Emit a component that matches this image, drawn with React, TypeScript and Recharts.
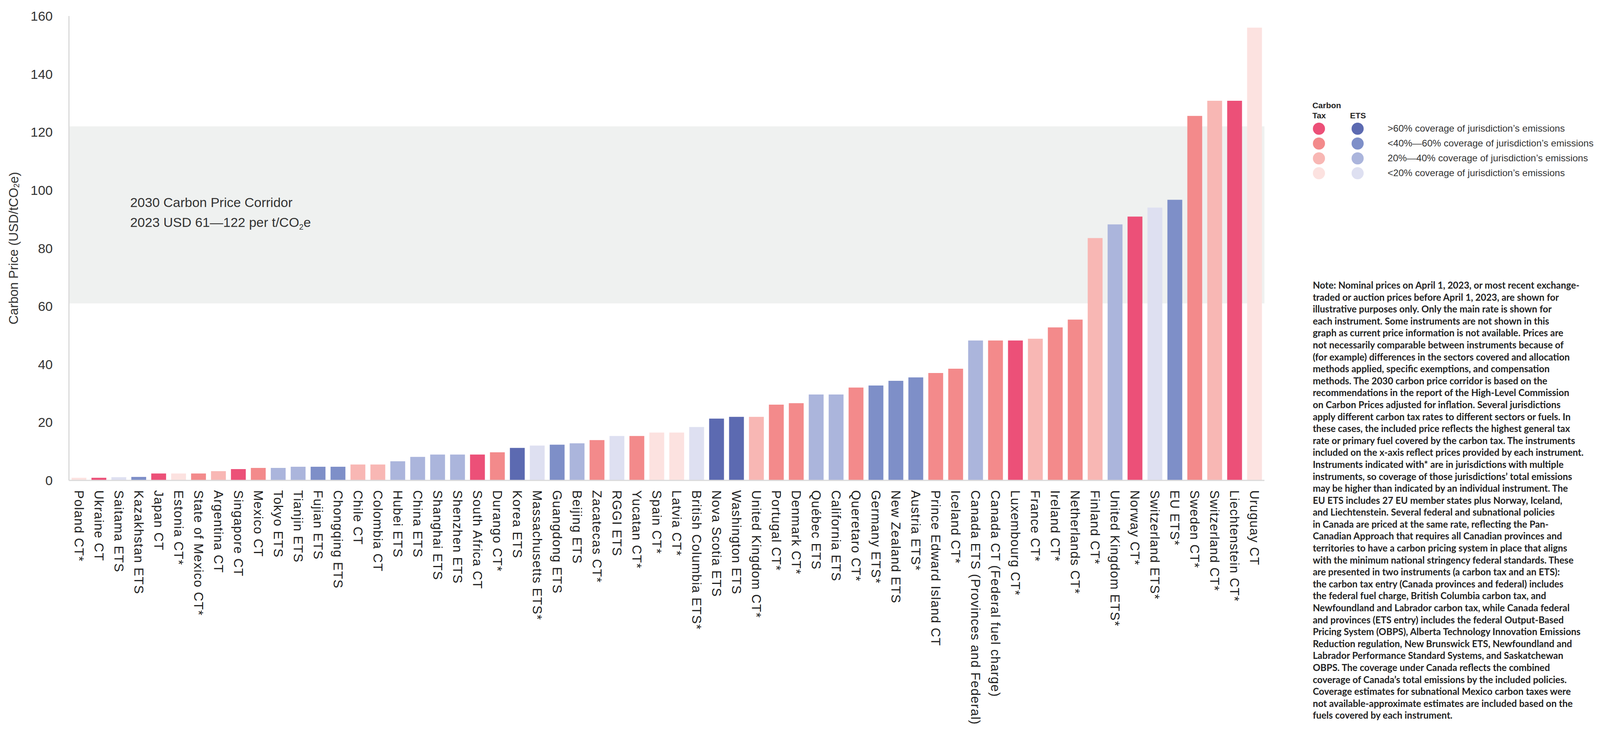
import React from "react";
import { BarChart, Bar, Cell, XAxis, YAxis, ReferenceArea } from "recharts";

const FONT = "'Liberation Sans', Arial, sans-serif";

// the page may be narrower than the 4339px design; squeeze x positions to fit
const DESIGN_W = 4339;
const VIEW_W = typeof window !== "undefined" ? Math.min(window.innerWidth || DESIGN_W, DESIGN_W) : DESIGN_W;
const SX = VIEW_W / DESIGN_W;
const px = (v: number) => v * SX;

const instruments = [
  "Poland CT*", "Ukraine CT", "Saitama ETS", "Kazakhstan ETS", "Japan CT", "Estonia CT*",
  "State of Mexico CT*", "Argentina CT", "Singapore CT", "Mexico CT", "Tokyo ETS", "Tianjin ETS",
  "Fujian ETS", "Chongqing ETS", "Chile CT", "Colombia CT", "Hubei ETS", "China ETS",
  "Shanghai ETS", "Shenzhen ETS", "South Africa CT", "Durango CT*", "Korea ETS",
  "Massachusetts ETS*", "Guangdong ETS", "Beijing ETS", "Zacatecas CT*", "RGGI ETS",
  "Yucatan CT*", "Spain CT*", "Latvia CT*", "British Columbia ETS*", "Nova Scotia ETS",
  "Washington ETS", "United Kingdom CT*", "Portugal CT*", "Denmark CT*", "Québec ETS",
  "California ETS", "Queretaro CT*", "Germany ETS*", "New Zealand ETS", "Austria ETS*",
  "Prince Edward Island CT", "Iceland CT*", "Canada ETS (Provinces and Federal)",
  "Canada CT (Federal fuel charge)", "Luxembourg CT*", "France CT*", "Ireland CT*",
  "Netherlands CT*", "Finland CT*", "United Kingdom ETS*", "Norway CT*", "Switzerland ETS*",
  "EU ETS*", "Sweden CT*", "Switzerland CT*", "Liechtenstein CT*", "Uruguay CT",
];

// USD/tCO2e
const prices = [
  0.9, 0.9, 1.1, 1.2, 2.4, 2.4, 2.4, 3.2, 3.9, 4.3, 4.3, 4.7,
  4.7, 4.7, 5.5, 5.5, 6.6, 8.1, 8.9, 8.9, 8.9, 9.7, 11.2,
  12, 12.3, 12.8, 13.9, 15.3, 15.3, 16.5, 16.5, 18.4, 21.3,
  21.9, 21.9, 26.1, 26.6, 29.6, 29.6, 32, 32.7, 34.3, 35.5,
  37, 38.5, 48.2, 48.2, 48.2, 48.8, 52.7, 55.4, 83.5, 88.2,
  90.9, 94, 96.7, 125.6, 130.8, 130.8, 156,
];

// 1: >60%, 2: 40-60%, 3: 20-40%, 4: <20% coverage
const coverageTier = [
  4, 1, 4, 2, 1, 4, 2, 3, 1, 2, 3, 3,
  2, 2, 3, 3, 3, 3, 3, 3, 1, 2, 1,
  4, 2, 3, 2, 4, 2, 4, 4, 4, 1,
  1, 3, 2, 2, 3, 3, 2, 2, 2, 2,
  2, 2, 3, 2, 1, 3, 2, 2, 3, 3,
  1, 4, 2, 2, 3, 1, 4,
];

const yTicks = [0, 20, 40, 60, 80, 100, 120, 140, 160];
const corridorLow = 61;
const corridorHigh = 122;

const taxColors = ["#EC5078", "#F38A8B", "#F8B7B4", "#FCE2E0"];
const etsColors = ["#5C6AB1", "#7E8FC8", "#ABB5DC", "#DEE0F1"];

const legendLabels = [
  ">60% coverage of jurisdiction’s emissions",
  "<40%—60% coverage of jurisdiction’s emissions",
  "20%—40% coverage of jurisdiction’s emissions",
  "<20% coverage of jurisdiction’s emissions",
];

const noteLines = [
  "Note: Nominal prices on April 1, 2023, or most recent exchange-",
  "traded or auction prices before April 1, 2023, are shown for",
  "illustrative purposes only. Only the main rate is shown for",
  "each instrument. Some instruments are not shown in this",
  "graph as current price information is not available. Prices are",
  "not necessarily comparable between instruments because of",
  "(for example) differences in the sectors covered and allocation",
  "methods applied, specific exemptions, and compensation",
  "methods. The 2030 carbon price corridor is based on the",
  "recommendations in the report of the High-Level Commission",
  "on Carbon Prices adjusted for inflation. Several jurisdictions",
  "apply different carbon tax rates to different sectors or fuels. In",
  "these cases, the included price reflects the highest general tax",
  "rate or primary fuel covered by the carbon tax. The instruments",
  "included on the x-axis reflect prices provided by each instrument.",
  "Instruments indicated with* are in jurisdictions with multiple",
  "instruments, so coverage of those jurisdictions’ total emissions",
  "may be higher than indicated by an individual instrument. The",
  "EU ETS includes 27 EU member states plus Norway, Iceland,",
  "and Liechtenstein. Several federal and subnational policies",
  "in Canada are priced at the same rate, reflecting the Pan-",
  "Canadian Approach that requires all Canadian provinces and",
  "territories to have a carbon pricing system in place that aligns",
  "with the minimum national stringency federal standards. These",
  "are presented in two instruments (a carbon tax and an ETS):",
  "the carbon tax entry (Canada provinces and federal) includes",
  "the federal fuel charge, British Columbia carbon tax, and",
  "Newfoundland and Labrador carbon tax, while Canada federal",
  "and provinces (ETS entry) includes the federal Output-Based",
  "Pricing System (OBPS), Alberta Technology Innovation Emissions",
  "Reduction regulation, New Brunswick ETS, Newfoundland and",
  "Labrador Performance Standard Systems, and Saskatchewan",
  "OBPS. The coverage under Canada reflects the combined",
  "coverage of Canada’s total emissions by the included policies.",
  "Coverage estimates for subnational Mexico carbon taxes were",
  "not available-approximate estimates are included based on the",
  "fuels covered by each instrument.",
];

const data = instruments.map((name, i) => ({
  name,
  price: prices[i],
  tier: coverageTier[i],
  isEts: name.includes("ETS"),
}));

const XTick = (props: any) => {
  const { x, y, payload } = props;
  return (
    <text
      x={x}
      y={y}
      transform={`rotate(90 ${x} ${y})`}
      textAnchor="start"
      dominantBaseline="central"
      fontSize={33}
      letterSpacing={1.5}
      fill="#1f1f1f"
      fontFamily={FONT}
    >
      {payload.value}
    </text>
  );
};

const YTitle = (props: any) => {
  const vb = props.viewBox || { y: 41, height: 1189 };
  const cy = vb.y + vb.height / 2;
  const x = px(37);
  return (
    <text
      x={x}
      y={cy}
      transform={`rotate(-90 ${x} ${cy})`}
      textAnchor="middle"
      dominantBaseline="central"
      fontSize={33}
      fill="#333"
      fontFamily={FONT}
    >
      Carbon Price (USD/tCO<tspan fontSize={20} dy={7}>2</tspan>
      <tspan dy={-7}>e)</tspan>
    </text>
  );
};

const CorridorLabel = (props: any) => {
  const vb = props.viewBox || { x: px(187), y: 323 };
  const x = vb.x + px(166);
  return (
    <g fontFamily={FONT} fontSize={34} fill="#333">
      <text x={x} y={vb.y + 207}>2030 Carbon Price Corridor</text>
      <text x={x} y={vb.y + 258}>
        2023 USD {corridorLow}—{corridorHigh} per t/CO<tspan fontSize={20} dy={7}>2</tspan>
        <tspan dy={-7}>e</tspan>
      </text>
    </g>
  );
};

export default function App() {
  return (
    <div
      style={{
        position: "absolute",
        left: 0,
        top: 0,
        width: px(4339),
        height: 1869,
        background: "#fff",
        fontFamily: FONT,
        overflow: "hidden",
      }}
    >
      <BarChart
        width={px(3440)}
        height={1869}
        data={data}
        margin={{ top: 41, right: px(11), left: 0, bottom: 0 }}
        barCategoryGap="13%"
      >
        <ReferenceArea
          y1={corridorLow}
          y2={corridorHigh}
          fill="#EFF1F0"
          fillOpacity={1}
          stroke="none"
          label={<CorridorLabel />}
        />
        <XAxis
          dataKey="name"
          interval={0}
          height={639}
          tickLine={false}
          tickSize={0}
          tickMargin={25}
          axisLine={{ stroke: "#dadada", strokeWidth: 3 }}
          tick={<XTick />}
        />
        <YAxis
          domain={[0, 160]}
          ticks={yTicks}
          width={px(187)}
          tickLine={false}
          tickSize={0}
          tickMargin={px(44)}
          axisLine={{ stroke: "#dadada", strokeWidth: 3 }}
          tick={{ fontSize: 34, fill: "#333", fontFamily: FONT }}
          label={<YTitle />}
        />
        <Bar dataKey="price" isAnimationActive={false}>
          {data.map((d) => (
            <Cell key={d.name} fill={(d.isEts ? etsColors : taxColors)[d.tier - 1]} />
          ))}
        </Bar>
      </BarChart>

      <div style={{ position: "absolute", left: px(3559), top: 257, fontWeight: 700, fontSize: 21, lineHeight: "26px", color: "#222" }}>
        Carbon
        <br />
        Tax
      </div>
      <div style={{ position: "absolute", left: px(3661), top: 283, fontWeight: 700, fontSize: 21, lineHeight: "26px", color: "#222" }}>
        ETS
      </div>
      {legendLabels.map((label, i) => {
        const cy = 329 + i * 38;
        return (
          <React.Fragment key={label}>
            <div style={{ position: "absolute", left: px(3576) - 15, top: cy - 15, width: 31, height: 31, borderRadius: 16, background: taxColors[i] }} />
            <div style={{ position: "absolute", left: px(3681) - 15, top: cy - 15, width: 31, height: 31, borderRadius: 16, background: etsColors[i] }} />
            <div style={{ position: "absolute", left: px(3763), top: cy - 15, fontSize: 24.5, lineHeight: "30px", color: "#333", whiteSpace: "nowrap" }}>
              {label}
            </div>
          </React.Fragment>
        );
      })}

      <div
        style={{
          position: "absolute",
          left: px(3560),
          top: 715,
          fontFamily: "Lato, 'Liberation Sans', sans-serif",
          fontWeight: 700,
          fontSize: 24,
          lineHeight: "30.6px",
          color: "#222",
          whiteSpace: "nowrap",
        }}
      >
        {noteLines.map((line) => (
          <div key={line}>{line}</div>
        ))}
      </div>
    </div>
  );
}
